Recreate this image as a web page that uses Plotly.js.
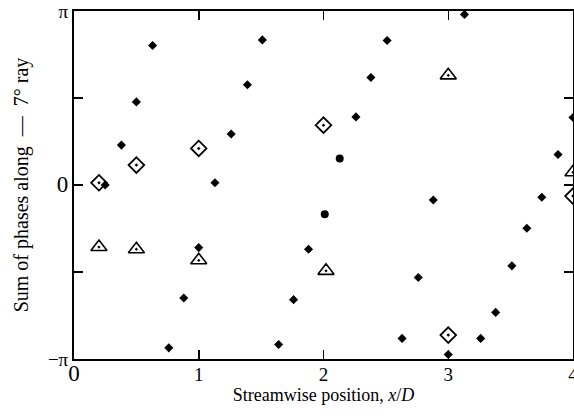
<!DOCTYPE html>
<html>
<head>
<meta charset="utf-8">
<script src="https://cdn.plot.ly/plotly-3.0.1.min.js"></script>
<style>html,body{margin:0;padding:0;background:#fff;}#chart{width:574px;height:416px;}</style>
</head>
<body>
<div id="chart"></div>
<script>
// Filled diamonds: sum of phases (rad) vs x/D
const fillX = [0.25, 0.38, 0.50, 0.63, 0.76, 0.88, 1.00, 1.13, 1.26, 1.39, 1.51, 1.64, 1.76, 1.88, 2.26, 2.38, 2.51, 2.63, 2.76, 2.88, 3.00, 3.13, 3.26, 3.38, 3.51, 3.63, 3.75, 3.88, 4.00];
const fillY = [0.00, 0.72, 1.50, 2.52, -2.94, -2.04, -1.13, 0.04, 0.92, 1.81, 2.62, -2.88, -2.07, -1.16, 1.23, 1.94, 2.61, -2.77, -1.67, -0.27, -3.06, 3.08, -2.77, -2.30, -1.46, -0.78, -0.22, 0.55, 1.22];
// Filled circles
const circX = [2.01, 2.13];
const circY = [-0.53, 0.48];
// Open diamonds
const diaX = [0.2, 0.5, 1.0, 2.0, 3.0, 4.0];
const diaY = [0.04, 0.36, 0.66, 1.08, -2.71, -0.20];
// Open triangles
const triX = [0.2, 0.5, 1.0, 2.02, 3.0, 4.0];
const triY = [-1.12, -1.16, -1.36, -1.55, 1.98, 0.23];

const xTicks = [0, 1, 2, 3, 4];
const xTickText = ['<span style="font-size:23px">0</span>', '1', '2', '3', '4'];
const yTicks = [-Math.PI, -Math.PI / 2, 0, Math.PI / 2, Math.PI];
const yTickText = ['\u2212\u03c0', '', '<span style="font-size:23px">0</span>', '', '\u03c0'];

const font = 'Liberation Serif, Times New Roman, serif';

const traces = [
  {x: fillX, y: fillY, type: 'scatter', mode: 'markers', cliponaxis: false,
   marker: {symbol: 'diamond', size: 7, color: '#000'}},
  {x: circX, y: circY, type: 'scatter', mode: 'markers', cliponaxis: false,
   marker: {symbol: 'circle', size: 8, color: '#000'}},
  {x: diaX, y: diaY, type: 'scatter', mode: 'markers', cliponaxis: false,
   marker: {symbol: 'diamond-open-dot', size: 12, color: '#000', line: {width: 1.8, color: '#000'}}},
  {x: triX, y: triY, type: 'scatter', mode: 'markers', cliponaxis: false,
   marker: {symbol: 'triangle-up-open-dot', size: 14, color: '#000', line: {width: 1.6, color: '#000'}}}
];

const layout = {
  width: 574, height: 416,
  margin: {l: 74, r: 1, t: 11, b: 57},
  paper_bgcolor: '#fff', plot_bgcolor: '#fff',
  showlegend: false,
  font: {family: font, color: '#000', size: 19},
  xaxis: {
    range: [0, 4], tickvals: xTicks, ticktext: xTickText,
    showgrid: false, zeroline: false, showline: true, linecolor: '#000', linewidth: 2,
    mirror: 'ticks', ticks: 'inside', ticklen: 9, tickwidth: 1.5, tickcolor: '#000',
    tickfont: {family: font, size: 19}, ticklabeloverflow: 'allow', ticklabelstandoff: -3,
    title: {text: 'Streamwise position, <i>x</i>/<i>D</i>', font: {family: font, size: 18}, standoff: 0}
  },
  yaxis: {
    range: [-Math.PI, Math.PI], tickvals: yTicks, ticktext: yTickText,
    showgrid: false, zeroline: false, showline: true, linecolor: '#000', linewidth: 2,
    mirror: 'ticks', ticks: 'inside', ticklen: 9, tickwidth: 1.5, tickcolor: '#000',
    tickfont: {family: font, size: 19},
    title: {text: 'Sum of phases along \u00a0\u2014\u00a0 7\u00b0 ray', font: {family: font, size: 20}, standoff: 14}
  }
};

Plotly.newPlot('chart', traces, layout, {staticPlot: true, displayModeBar: false});
</script>
</body>
</html>
